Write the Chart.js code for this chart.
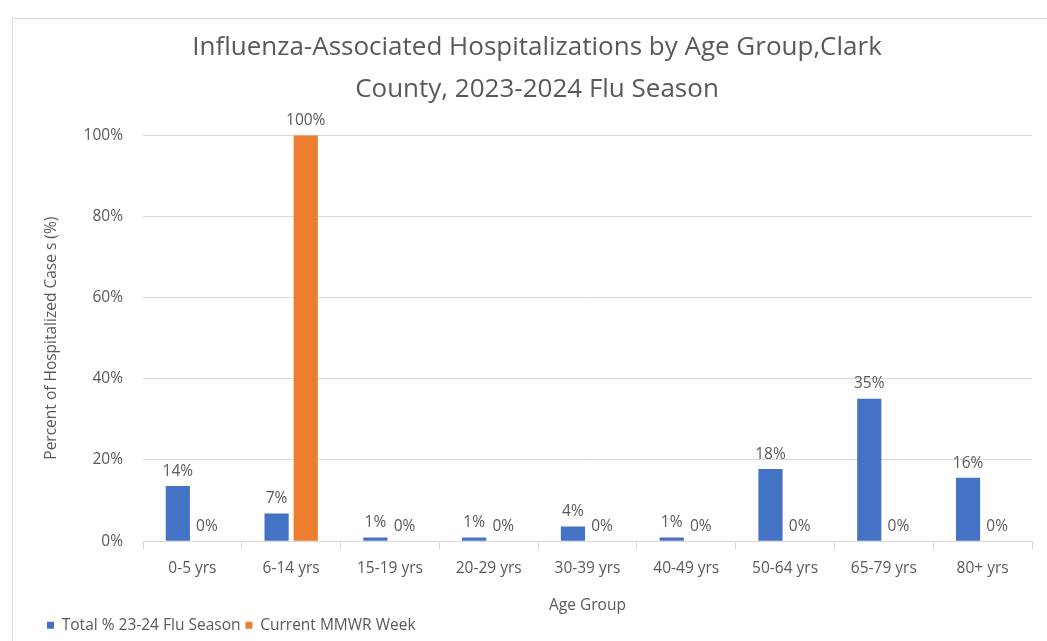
<!DOCTYPE html>
<html>
<head>
<meta charset="utf-8">
<script src="https://cdn.jsdelivr.net/npm/chart.js@4.4.1/dist/chart.umd.min.js"></script>
<style>
  html, body { margin: 0; padding: 0; background: #fff; }
  #wrap { position: relative; width: 1047px; height: 641px; overflow: hidden; }
  #frame { position: absolute; left: 12px; top: 18px; width: 1100px; height: 700px; border: 1px solid #d9d9d9; }
  canvas { position: absolute; left: 0; top: 0; }
</style>
</head>
<body>
<div id="wrap">
  <div id="frame"></div>
  <canvas id="chart" width="1047" height="641"></canvas>
</div>
<script>
const ageGroups = ['0-5 yrs', '6-14 yrs', '15-19 yrs', '20-29 yrs', '30-39 yrs', '40-49 yrs', '50-64 yrs', '65-79 yrs', '80+ yrs'];
const seasonTotal = [13.6, 6.8, 0.9, 0.9, 3.6, 0.9, 17.8, 35.1, 15.6];
const currentWeek = [0, 100, 0, 0, 0, 0, 0, 0, 0];
const yTicks = [0, 20, 40, 60, 80, 100];

const textColor = '#595959';
const fontFamily = '"Open Sans", "Noto Sans", sans-serif';

// draws the % value above every bar
const barLabels = {
  id: 'barLabels',
  afterDatasetsDraw(chart) {
    const ctx = chart.ctx;
    ctx.save();
    ctx.fillStyle = textColor;
    ctx.font = '15.5px ' + fontFamily;
    ctx.textAlign = 'center';
    ctx.textBaseline = 'bottom';
    chart.data.datasets.forEach((ds, i) => {
      chart.getDatasetMeta(i).data.forEach((bar, j) => {
        ctx.fillText(Math.round(ds.data[j]) + '%', bar.x, bar.y - 7);
      });
    });
    ctx.restore();
  }
};

new Chart(document.getElementById('chart'), {
  type: 'bar',
  data: {
    labels: ageGroups,
    datasets: [
      {
        label: 'Total % 23-24 Flu Season',
        data: seasonTotal,
        backgroundColor: '#4472c4',
        barPercentage: 0.83,
        categoryPercentage: 0.59
      },
      {
        label: 'Current MMWR Week',
        data: currentWeek,
        backgroundColor: '#ed7d31',
        barPercentage: 0.83,
        categoryPercentage: 0.59
      }
    ]
  },
  options: {
    responsive: false,
    animation: false,
    layout: { padding: { left: 42, right: 15, top: 0, bottom: -2 } },
    plugins: {
      title: {
        display: true,
        text: ['Influenza-Associated Hospitalizations by Age Group,Clark', 'County, 2023-2024 Flu Season'],
        color: textColor,
        font: { family: fontFamily, size: 26, weight: 'normal', lineHeight: 1.6 },
        padding: { top: 27, bottom: 25 }
      },
      legend: {
        position: 'bottom',
        align: 'start',
        labels: {
          color: textColor,
          font: { family: fontFamily, size: 15.5 },
          boxWidth: 7,
          boxHeight: 7,
          padding: 5
        }
      },
      tooltip: { enabled: false }
    },
    scales: {
      x: {
        grid: { display: true, drawOnChartArea: false, offset: true, color: '#d9d9d9', tickLength: 8 },
        border: { color: '#d9d9d9' },
        ticks: { color: textColor, font: { family: fontFamily, size: 15.5 }, padding: 10 },
        title: {
          display: true,
          text: 'Age Group',
          color: textColor,
          font: { family: fontFamily, size: 15.5, lineHeight: 0.95 },
          padding: { top: 10, bottom: 0 }
        }
      },
      y: {
        min: 0,
        max: 100,
        afterBuildTicks(axis) { axis.ticks = yTicks.map(v => ({ value: v })); },
        afterFit(axis) { axis.width = 101; },
        grid: { color: '#d9d9d9', drawTicks: false },
        border: { display: false },
        ticks: {
          color: textColor,
          font: { family: fontFamily, size: 15.5 },
          padding: 20,
          callback: v => v + '%'
        },
        title: {
          display: true,
          text: 'Percent of Hospitalized Case s (%)',
          color: textColor,
          font: { family: fontFamily, size: 15.5 },
          padding: { top: 0, bottom: 0 }
        }
      }
    }
  },
  plugins: [barLabels]
});
</script>
</body>
</html>
